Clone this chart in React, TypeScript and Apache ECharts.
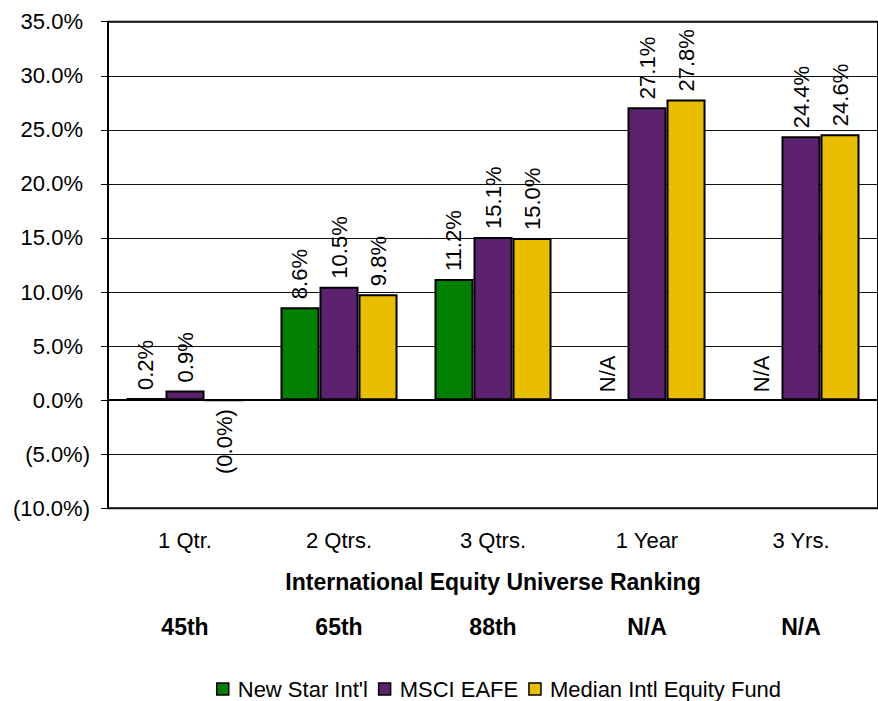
import React, { useEffect, useRef } from 'react';
import * as echarts from 'echarts';

const categories = ['1 Qtr.', '2 Qtrs.', '3 Qtrs.', '1 Year', '3 Yrs.'];
const rankings = ['45th', '65th', '88th', 'N/A', 'N/A'];
const seriesNames = ["New Star Int'l", 'MSCI EAFE', 'Median Intl Equity Fund'];
const newStar: (number | null)[] = [0.2, 8.6, 11.2, null, null];
const msciEafe: (number | null)[] = [0.9, 10.5, 15.1, 27.1, 24.4];
const medianFund: (number | null)[] = [-0.01, 9.8, 15.0, 27.8, 24.6];
const seriesColors = ['#007F00', '#5C2270', '#E9BD00'];
const axisTitle = 'International Equity Universe Ranking';
const yMin = -10;
const yMax = 35;
const yStep = 5;

const FONT = "'Liberation Sans', Arial, sans-serif";

const fmt = (v: number) =>
  v < 0 ? `(${Math.abs(v).toFixed(1)}%)` : `${v.toFixed(1)}%`;

const makeData = (vals: (number | null)[]) =>
  vals.map((v) => {
    if (v === null) {
      return {
        value: 0,
        itemStyle: { color: 'transparent', borderWidth: 0 },
        label: { formatter: 'N/A' },
      };
    }
    if (v < 0) {
      return { value: v, label: { position: 'bottom', align: 'right' } };
    }
    return v;
  });

export default function App() {
  const ref = useRef<HTMLDivElement>(null);
  useEffect(() => {
    if (!ref.current) return;
    const chart = echarts.init(ref.current, undefined, { renderer: 'svg' });
    const allSeries = [newStar, msciEafe, medianFund].map((vals, i) => ({
      name: seriesNames[i],
      type: 'bar',
      xAxisIndex: 0,
      data: makeData(vals),
      barGap: '0%',
      barCategoryGap: '24%',
      itemStyle: { color: seriesColors[i], borderColor: '#000', borderWidth: 2 },
      label: {
        show: true,
        position: 'top',
        rotate: 90,
        align: 'left',
        verticalAlign: 'middle',
        distance: 8,
        fontSize: 22,
        fontFamily: FONT,
        color: '#000',
        formatter: (p: any) => fmt(p.value),
      },
    }));
    chart.setOption({
      animation: false,
      backgroundColor: '#fff',
      textStyle: { fontFamily: FONT },
      grid: {
        left: 108,
        top: 21.7,
        width: 776,
        height: 486.6,
        show: true,
        borderColor: '#000',
        borderWidth: 2,
        containLabel: false,
      },
      legend: {
        data: seriesNames,
        left: 211,
        top: 673,
        icon: 'rect',
        itemWidth: 12,
        itemHeight: 12,
        itemGap: 10,
        itemStyle: { borderColor: '#000', borderWidth: 1.5 },
        textStyle: { fontSize: 22, fontFamily: FONT, color: '#000', padding: [0, 0, 0, 4] },
      },
      xAxis: [
        {
          type: 'category',
          data: categories,
          position: 'bottom',
          axisLine: { show: true, lineStyle: { color: '#000', width: 2 } },
          axisTick: { show: false },
          axisLabel: { margin: 21, fontSize: 22, fontFamily: FONT, color: '#000' },
          name: axisTitle,
          nameLocation: 'middle',
          nameGap: 62,
          nameTextStyle: { fontSize: 23, fontWeight: 'bold', fontFamily: FONT, color: '#000' },
        },
        {
          type: 'category',
          data: rankings,
          position: 'bottom',
          offset: 86,
          axisLine: { show: false },
          axisTick: { show: false },
          splitLine: { show: false },
          axisLabel: { margin: 21, fontSize: 23, fontWeight: 'bold', fontFamily: FONT, color: '#000' },
        },
      ],
      yAxis: {
        type: 'value',
        min: yMin,
        max: yMax,
        interval: yStep,
        axisLine: { show: true, lineStyle: { color: '#000', width: 2 } },
        axisTick: { show: true, length: 7, lineStyle: { color: '#000', width: 1 } },
        splitLine: { show: true, lineStyle: { color: '#111', width: 1 } },
        axisLabel: {
          margin: 18,
          formatter: (v: number) => (v < 0 ? `{n|${fmt(v)}}` : `{p|${fmt(v)}}`),
          rich: {
            p: { fontSize: 22, fontFamily: FONT, color: '#000', padding: [0, 7, 0, 0] },
            n: { fontSize: 22, fontFamily: FONT, color: '#000' },
          },
        },
      },
      series: allSeries,
    });
    return () => chart.dispose();
  }, []);
  return (
    <div
      ref={ref}
      style={{ position: 'absolute', left: 0, top: 0, width: 878, height: 701 }}
    />
  );
}
